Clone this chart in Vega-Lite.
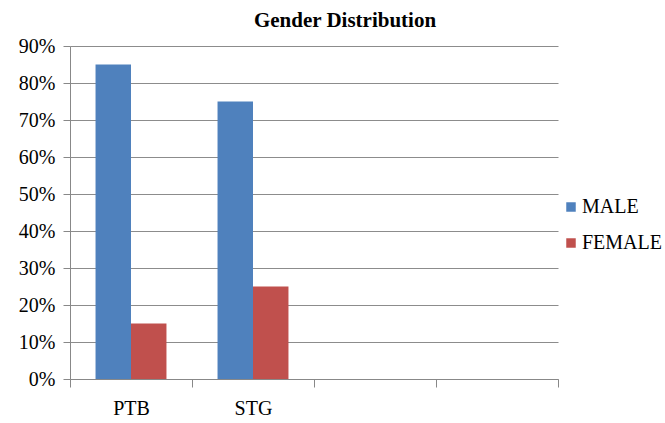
{
  "$schema": "https://vega.github.io/schema/vega-lite/v6.json",
  "autosize": "none",
  "width": 488,
  "height": 333,
  "padding": {"left": 70, "top": 46, "right": 107, "bottom": 44},
  "background": "white",
  "title": {
    "text": "Gender Distribution",
    "font": "Liberation Serif",
    "fontSize": 21,
    "fontWeight": "bold",
    "color": "#000000",
    "anchor": "middle",
    "dx": 31,
    "offset": 5
  },
  "data": {
    "values": [
      {"cat": "PTB", "gender": "MALE", "value": 0.85},
      {"cat": "PTB", "gender": "FEMALE", "value": 0.15},
      {"cat": "STG", "gender": "MALE", "value": 0.75},
      {"cat": "STG", "gender": "FEMALE", "value": 0.25}
    ]
  },
  "mark": {"type": "bar"},
  "encoding": {
    "x": {
      "field": "cat",
      "type": "nominal",
      "scale": {"domain": ["PTB", "STG", "c3", "c4"], "paddingInner": 0, "paddingOuter": 0},
      "axis": {
        "title": null,
        "labelAngle": 0,
        "labelExpr": "datum.value == 'c3' || datum.value == 'c4' ? '' : datum.value",
        "labelFont": "Liberation Serif",
        "labelFontSize": 20,
        "labelColor": "#000000",
        "labelPadding": 11,
        "tickBand": "extent",
        "tickSize": 8,
        "tickColor": "#888888",
        "domainColor": "#888888",
        "grid": false
      }
    },
    "xOffset": {
      "field": "gender",
      "type": "nominal",
      "scale": {"domain": ["MALE", "FEMALE"], "paddingInner": 0, "paddingOuter": 0.72}
    },
    "y": {
      "field": "value",
      "type": "quantitative",
      "scale": {"domain": [0, 0.9], "nice": false},
      "axis": {
        "title": null,
        "values": [0, 0.1, 0.2, 0.3, 0.4, 0.5, 0.6, 0.7, 0.8, 0.9],
        "format": ".0%",
        "labelFont": "Liberation Serif",
        "labelFontSize": 20,
        "labelColor": "#000000",
        "labelPadding": 8,
        "tickSize": 7,
        "tickColor": "#888888",
        "domainColor": "#888888",
        "grid": true,
        "gridColor": "#8c8c8c",
        "gridWidth": 1
      }
    },
    "color": {
      "field": "gender",
      "type": "nominal",
      "scale": {"domain": ["MALE", "FEMALE"], "range": ["#4F81BD", "#C0504D"]},
      "legend": {
        "title": null,
        "orient": "none",
        "legendX": 491,
        "legendY": 151,
        "symbolType": "square",
        "symbolSize": 90,
        "symbolStrokeWidth": 0,
        "labelFont": "Liberation Serif",
        "labelFontSize": 20,
        "labelColor": "#000000",
        "labelOffset": 1,
        "rowPadding": 16
      }
    }
  },
  "config": {
    "view": {"stroke": null}
  }
}
